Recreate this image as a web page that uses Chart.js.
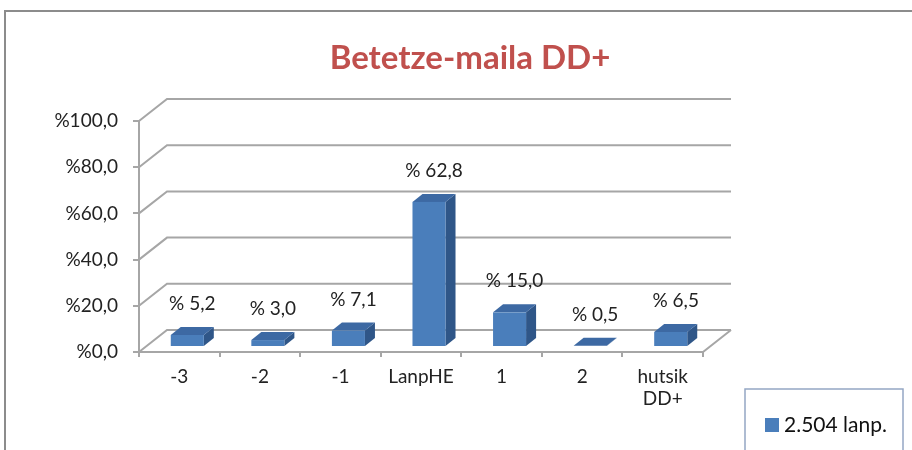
<!DOCTYPE html>
<html>
<head>
<meta charset="utf-8">
<script src="https://cdn.jsdelivr.net/npm/chart.js@4.4.1/dist/chart.umd.min.js"></script>
<style>
html,body{margin:0;padding:0;background:#fff;}
#wrap{width:912px;height:450px;position:relative;}
</style>
</head>
<body>
<div id="wrap"><canvas id="c" width="912" height="450"></canvas></div>
<script>
const categories = ['-3', '-2', '-1', 'LanpHE', '1', '2', ['hutsik', 'DD+']];
const values = [5.2, 3.0, 7.1, 62.8, 15.0, 0.5, 6.5];
const seriesName = '2.504 lanp.';
const chartTitle = 'Betetze-maila DD+';
const yTicks = [0, 20, 40, 60, 80, 100];

const FONT = 'Lato, "Open Sans", sans-serif';
const WALL = {dx: 28, dy: -22};
const BAR_OFF = {dx: 8, dy: -5};
const BAR_DEPTH = {dx: 10, dy: -8};
const GRID = '#a6a6a6';

function fmtPct(v) { return '%' + v.toFixed(1).replace('.', ','); }
function fmtLabel(v) { return '% ' + v.toFixed(1).replace('.', ','); }

const plugin3d = {
  id: 'plugin3d',
  beforeDraw(chart) {
    const ctx = chart.ctx;
    ctx.save();
    ctx.strokeStyle = '#8c8c8c';
    ctx.lineWidth = 2;
    ctx.beginPath();
    ctx.moveTo(5, 452); ctx.lineTo(5, 11); ctx.lineTo(914, 11);
    ctx.stroke();
    ctx.fillStyle = '#C0504D';
    ctx.font = 'bold 33px ' + FONT;
    ctx.textAlign = 'center';
    ctx.textBaseline = 'middle';
    ctx.fillText(chartTitle, 470, 58);
    ctx.restore();
  },
  beforeDatasetsDraw(chart) {
    const ctx = chart.ctx;
    const ys = chart.scales.y;
    const a = chart.chartArea;
    ctx.save();
    ctx.strokeStyle = GRID;
    ctx.lineWidth = 2;
    ys.ticks.forEach(t => {
      const y = ys.getPixelForValue(t.value);
      ctx.beginPath();
      ctx.moveTo(a.left, y);
      ctx.lineTo(a.left + WALL.dx, y + WALL.dy);
      ctx.lineTo(a.right + WALL.dx, y + WALL.dy);
      ctx.stroke();
    });
    const y0 = ys.getPixelForValue(0);
    ctx.beginPath();
    ctx.moveTo(a.left, y0);
    ctx.lineTo(a.right, y0);
    ctx.lineTo(a.right + WALL.dx, y0 + WALL.dy);
    ctx.stroke();
    ctx.restore();
  },
  afterDatasetsDraw(chart) {
    const ctx = chart.ctx;
    const meta = chart.getDatasetMeta(0);
    ctx.save();
    meta.data.forEach((bar, i) => {
      const w = bar.width;
      const x1 = bar.x - w / 2 + BAR_OFF.dx;
      const x2 = bar.x + w / 2 + BAR_OFF.dx;
      const yt = bar.y + BAR_OFF.dy;
      const yb = bar.base + BAR_OFF.dy;
      ctx.fillStyle = '#2f5688';
      ctx.beginPath();
      ctx.moveTo(x2, yt); ctx.lineTo(x2 + BAR_DEPTH.dx, yt + BAR_DEPTH.dy);
      ctx.lineTo(x2 + BAR_DEPTH.dx, yb + BAR_DEPTH.dy); ctx.lineTo(x2, yb);
      ctx.closePath(); ctx.fill();
      ctx.fillStyle = '#3d69a3';
      ctx.beginPath();
      ctx.moveTo(x1, yt); ctx.lineTo(x1 + BAR_DEPTH.dx, yt + BAR_DEPTH.dy);
      ctx.lineTo(x2 + BAR_DEPTH.dx, yt + BAR_DEPTH.dy); ctx.lineTo(x2, yt);
      ctx.closePath(); ctx.fill();
      if (yb - yt > 0.5) {
        ctx.fillStyle = '#4a7ebb';
        ctx.fillRect(x1, yt, x2 - x1, yb - yt);
      }
      ctx.fillStyle = '#222';
      ctx.font = '19px ' + FONT;
      ctx.textAlign = 'center';
      ctx.textBaseline = 'middle';
      ctx.fillText(fmtLabel(values[i]), (x1 + x2) / 2 + BAR_DEPTH.dx / 2, yt - 31);
    });
    ctx.strokeStyle = '#94a6c4';
    ctx.lineWidth = 1.5;
    ctx.strokeRect(745, 389, 158, 70);
    ctx.fillStyle = '#4a7ebb';
    ctx.fillRect(765, 418, 14, 14);
    ctx.fillStyle = '#111';
    ctx.font = '21px ' + FONT;
    ctx.textAlign = 'left';
    ctx.textBaseline = 'middle';
    ctx.fillText(seriesName, 784, 425);
    ctx.restore();
  }
};

new Chart(document.getElementById('c'), {
  type: 'bar',
  data: {
    labels: categories,
    datasets: [{
      label: seriesName,
      data: values,
      backgroundColor: 'rgba(0,0,0,0)',
      borderWidth: 0,
      barPercentage: 0.41,
      categoryPercentage: 1.0
    }]
  },
  options: {
    responsive: false,
    animation: false,
    events: [],
    layout: {padding: {left: 0, top: 121, right: 209, bottom: 38}},
    plugins: {legend: {display: false}, title: {display: false}, tooltip: {enabled: false}},
    scales: {
      x: {
        afterFit(s) { s.height = 60; },
        grid: {display: true, offset: true, drawOnChartArea: false, color: GRID, lineWidth: 2, tickLength: 5},
        border: {display: false},
        ticks: {color: '#222', font: {size: 19, family: FONT, lineHeight: 1.15}, padding: 9, maxRotation: 0, autoSkip: false}
      },
      y: {
        min: 0, max: 100,
        afterFit(s) { s.width = 139; },
        afterBuildTicks(s) { s.ticks = yTicks.map(v => ({value: v})); },
        grid: {display: true, drawOnChartArea: false, color: GRID, lineWidth: 2, tickLength: 6},
        border: {display: true, color: GRID, width: 2},
        ticks: {color: '#222', font: {size: 19, family: FONT}, padding: 15, callback: v => fmtPct(v)}
      }
    }
  },
  plugins: [plugin3d]
});
</script>
</body>
</html>
